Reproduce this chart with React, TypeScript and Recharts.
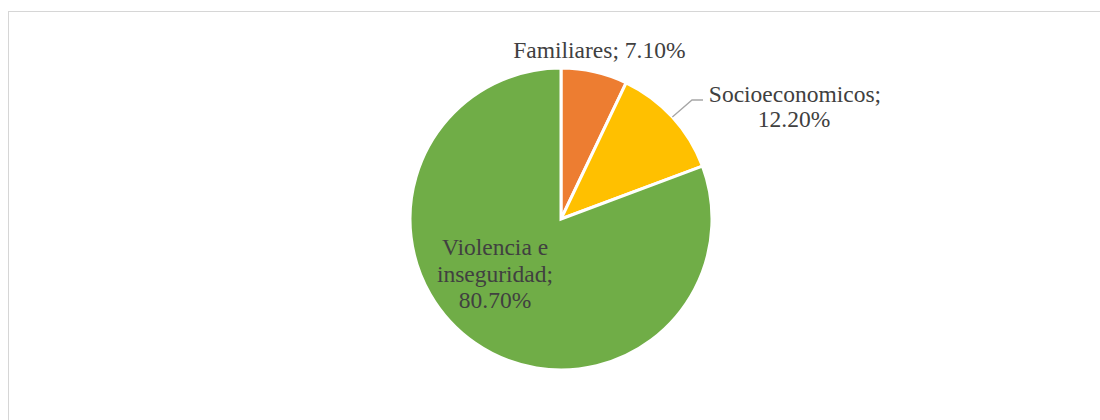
import React from 'react';
import { PieChart, Pie, Cell } from 'recharts';

const categories = ['Familiares', 'Socioeconomicos', 'Violencia e inseguridad'];
const values = [7.1, 12.2, 80.7];
const colors = ['#ED7D31', '#FFC000', '#70AD47'];

const chartData = categories.map((name, i) => ({ name, value: values[i] }));

const RADIAN = Math.PI / 180;
const FONT = '"Liberation Serif", "Times New Roman", serif';
const TEXT_COLOR = '#404040';
const FONT_SIZE = 23.5;

const formatPct = (v: number) => `${v.toFixed(2)}%`;

const renderLabel = (props: any) => {
  const { cx, cy, midAngle, outerRadius, index, value, name } = props;
  const cos = Math.cos(-midAngle * RADIAN);
  const sin = Math.sin(-midAngle * RADIAN);

  const textProps = {
    fill: TEXT_COLOR,
    textAnchor: 'middle' as const,
    fontFamily: FONT,
    fontSize: FONT_SIZE,
    className: 'slice-label',
  };

  if (index === 0) {
    // outside end, single line
    const r = outerRadius * 1.15;
    const x = cx + r * cos;
    const y = cy + r * sin;
    return (
      <text key={`l-${index}`} x={x} y={y + 8} {...textProps}>
        {`${name}; ${formatPct(value)}`}
      </text>
    );
  }

  if (index === 1) {
    // label pulled out to the right with a leader line
    const sx = cx + outerRadius * cos;
    const sy = cy + outerRadius * sin;
    const ex = cx + 131;
    const ey = cy - 119;
    const hx = cx + 142;
    return (
      <g key={`l-${index}`}>
        <polyline
          points={`${sx},${sy} ${ex},${ey} ${hx},${ey}`}
          fill="none"
          stroke="#a6a6a6"
          strokeWidth={1.3}
        />
        <text x={cx + 234} y={cy - 117} {...textProps}>{`${name};`}</text>
        <text x={cx + 233} y={cy - 92} {...textProps}>{formatPct(value)}</text>
      </g>
    );
  }

  // inside, three lines
  const words = name.split(' ');
  const lines = [`${words[0]} ${words[1]}`, `${words.slice(2).join(' ')};`, formatPct(value)];
  return (
    <g key={`l-${index}`}>
      {lines.map((t, i) => (
        <text key={i} x={cx - 66} y={cy + 36 + i * 26.5} {...textProps}>{t}</text>
      ))}
    </g>
  );
};

const App: React.FC = () => {
  return (
    <div
      style={{
        position: 'absolute',
        left: 8,
        top: 11,
        width: 1300,
        height: 600,
        border: '1px solid #d6d6d6',
        boxSizing: 'border-box',
      }}
    >
      <style>{`
        html, body { overflow: hidden; }
        .recharts-wrapper text.slice-label { font-family: "Liberation Serif", "Times New Roman", serif !important; font-size: ${FONT_SIZE}px !important; }
      `}</style>
      <PieChart width={1100} height={420} margin={{ top: 0, right: 0, bottom: 0, left: 0 }}>
        <Pie
          data={chartData}
          dataKey="value"
          nameKey="name"
          cx={552}
          cy={207}
          outerRadius={151}
          startAngle={90}
          endAngle={-270}
          stroke="#ffffff"
          strokeWidth={3}
          label={renderLabel}
          labelLine={false}
          isAnimationActive={false}
        >
          {chartData.map((entry, i) => (
            <Cell key={entry.name} fill={colors[i]} />
          ))}
        </Pie>
      </PieChart>
    </div>
  );
};

export default App;
